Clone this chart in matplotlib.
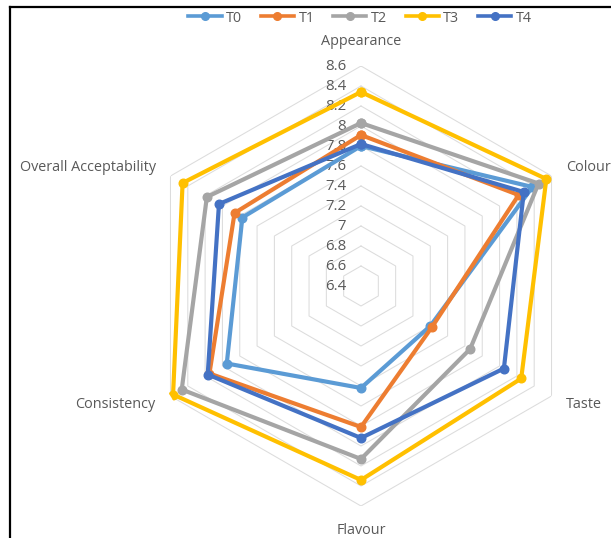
import numpy as np
import matplotlib

matplotlib.use("Agg")
import matplotlib.pyplot as plt
from matplotlib.lines import Line2D
from matplotlib.transforms import offset_copy

plt.rcParams["font.family"] = ["Open Sans", "DejaVu Sans"]

categories = ["Appearance", "Colour", "Taste", "Flavour", "Consistency",
              "Overall Acceptability"]
series_names = ["T0", "T1", "T2", "T3", "T4"]
T0 = [7.80, 8.38, 7.20, 7.42, 7.95, 7.77]
T1 = [7.91, 8.22, 7.22, 7.81, 8.15, 7.86]
T2 = [8.03, 8.45, 7.66, 8.13, 8.47, 8.18]
T3 = [8.34, 8.54, 8.25, 8.34, 8.57, 8.46]
T4 = [7.82, 8.28, 8.05, 7.92, 8.17, 8.04]
tick_values = [6.4, 6.6, 6.8, 7.0, 7.2, 7.4, 7.6, 7.8, 8.0, 8.2, 8.4, 8.6]
tick_labels = ["6.4", "6.6", "6.8", "7", "7.2", "7.4", "7.6", "7.8", "8",
               "8.2", "8.4", "8.6"]
colors = ["#5B9BD5", "#ED7D31", "#A5A5A5", "#FFC000", "#4472C4"]

W, H = 611, 538
fig = plt.figure(figsize=(W / 100, H / 100), dpi=100)
fig.patch.set_facecolor("white")

# polar axes: centre ~ (361, 286) px, outer radius ~220 px
cx, cy, R = 361, 286, 220
ax = fig.add_axes([(cx - R) / W, (H - cy - R) / H, 2 * R / W, 2 * R / H],
                  polar=True)
ax.set_theta_offset(np.pi / 2)
ax.set_theta_direction(-1)
ax.set_ylim(tick_values[0], tick_values[-1])
ax.grid(False)
ax.spines["polar"].set_visible(False)
ax.set_xticks([])
ax.set_yticks([])
ax.patch.set_alpha(0)

n = len(categories)
ang = np.linspace(0, 2 * np.pi, n, endpoint=False)
ang_c = np.append(ang, ang[0])

# hexagonal grid
grid_col = "#DCDCDC"
for v in tick_values[1:]:
    ax.plot(ang_c, [v] * (n + 1), color=grid_col, lw=0.75, zorder=1)

# series
for name, vals, col in zip(series_names, [T0, T1, T2, T3, T4], colors):
    v = np.append(vals, vals[0])
    ax.plot(ang_c, v, color=col, lw=3.0, marker="o", markersize=6.2,
            label=name, zorder=3, solid_joinstyle="round")

# radial tick labels left of the top axis (lines drawn over them)
tr = offset_copy(ax.transData, fig=fig, x=-15, y=0, units="dots")
for v, lab in zip(tick_values, tick_labels):
    ax.text(0, v, lab, transform=tr, ha="right", va="center", fontsize=10.8,
            color="#595959", zorder=2)

# category labels
txt_col = "#595959"
lab_r = 8.77
for a, c in zip(ang, categories):
    deg = np.degrees(a) % 360
    if deg < 1:
        ha, va = "center", "bottom"
    elif abs(deg - 180) < 1:
        ha, va = "center", "top"
    elif deg < 180:
        ha, va = "left", "center"
    else:
        ha, va = "right", "center"
    ax.text(a, lab_r, c, ha=ha, va=va, fontsize=10.4, color=txt_col,
            clip_on=False)

# legend
handles = [Line2D([], [], color=c, lw=2.6, marker="o", markersize=5.5)
           for c in colors]
fig.legend(handles, series_names, loc="center", ncol=5,
           bbox_to_anchor=(360 / W, 1 - 18 / H), frameon=False, fontsize=10.4,
           handlelength=2.3, handletextpad=0.3, columnspacing=1.3,
           labelcolor="#595959")

# screenshot frame (top and left edges)
fig.add_artist(Line2D([10 / W, 1], [1 - 7 / H, 1 - 7 / H],
                      transform=fig.transFigure, color="black", lw=1.6))
fig.add_artist(Line2D([10 / W, 10 / W], [0, 1 - 7 / H],
                      transform=fig.transFigure, color="black", lw=1.6))

fig.savefig("out.png", dpi=100)
